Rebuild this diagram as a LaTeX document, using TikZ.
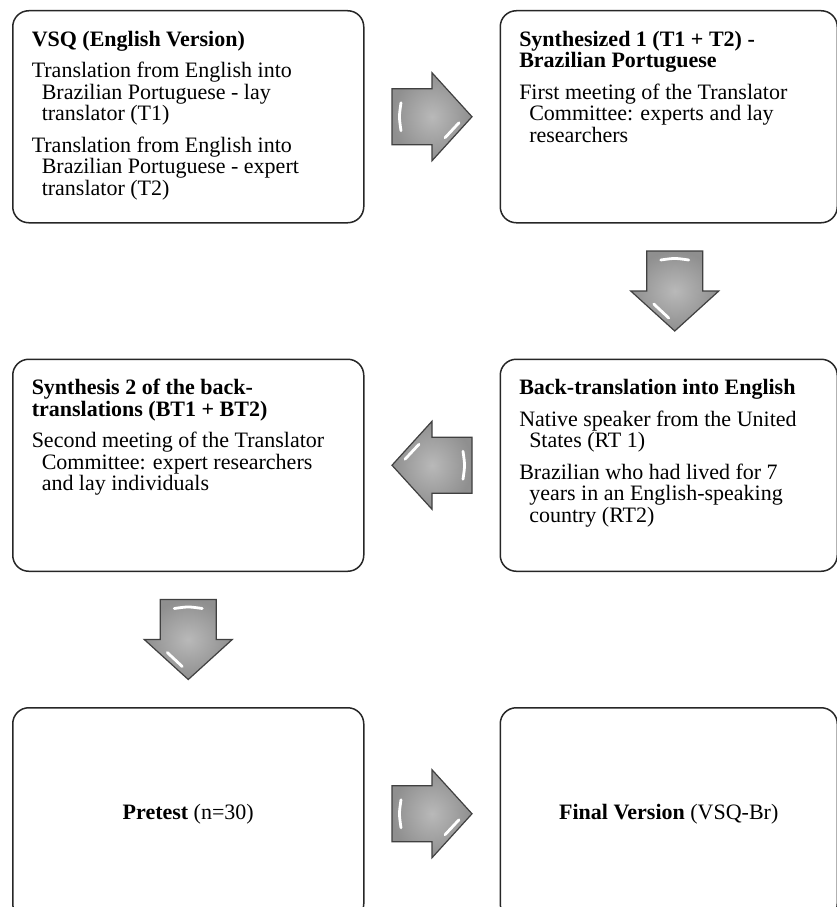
\documentclass[tikz,border=0pt]{standalone}
\usepackage{fontspec}
\setmainfont{Liberation Serif}
\usetikzlibrary{calc,positioning}

\newcommand{\stagetext}[2]{\parbox[t][172pt][t]{#1}{\raggedright\setlength{\parskip}{10pt}#2}}
\newcommand{\substep}[1]{\par\hangindent=10pt\hangafter=1 #1}

\begin{document}
\begin{tikzpicture}[x=1pt,y=-1pt,
                stage/.style={draw=black!85,line width=1.5pt,rounded corners=16pt,
                    inner xsep=19pt,inner ysep=20pt,minimum height=212pt,
                    font=\fontsize{22}{21.5}\selectfont},
                leftstage/.style={stage,minimum width=351pt},
                rightstage/.style={stage,minimum width=337pt},
                arrowbody/.style={draw=black!75,line width=1.2pt,inner color=gray!55,outer color=gray!88},
                glint/.style={white,line width=2.8pt,line cap=round},
                blockarrow/.pic={
                    \draw[arrowbody] (-40,-28) -- (0,-28) -- (0,-44) -- (40,0) -- (0,44) -- (0,28) -- (-40,28) -- cycle;
                    \draw[glint] (-31,-14) .. controls (-33,0) .. (-31,14);
                    \draw[glint] (13,21) -- (27,6);
                }
            ]
                \useasboundingbox (0,0) rectangle (836,907);
                % stages
                \node[leftstage,anchor=north west] (vsq) at (12,10) {\stagetext{313pt}{%
                    \textbf{VSQ (English Version)}
                    \substep{Translation from English into\newline Brazilian Portuguese - lay\newline translator (T1)}
                    \substep{Translation from English into\newline Brazilian Portuguese - expert\newline translator (T2)}}};
                \node[rightstage,right=135pt of vsq] (syn1) {\stagetext{299pt}{%
                    \textbf{Synthesized 1 (T1 + T2) -\newline Brazilian Portuguese}
                    \substep{First meeting of the Translator\newline Committee: experts and lay\newline researchers}}};
                \node[rightstage,below=135pt of syn1] (back) {\stagetext{299pt}{%
                    \textbf{Back-translation into English}
                    \substep{Native speaker from the United\newline States (RT 1)}
                    \substep{Brazilian who had lived for 7\newline years in an English-speaking\newline country (RT2)}}};
                \node[leftstage,below=135pt of vsq] (syn2) {\stagetext{313pt}{%
                    \textbf{Synthesis 2 of the back-\newline translations (BT1 + BT2)}
                    \substep{Second meeting of the Translator\newline Committee: expert researchers\newline and lay individuals}}};
                \node[leftstage,below=135pt of syn2] (pretest) {\textbf{Pretest} (n=30)};
                \node[rightstage,right=135pt of pretest] (final) {\textbf{Final Version} (VSQ-Br)};
                % block arrows
                \pic at ($(vsq.east)!0.5!(syn1.west)$) {blockarrow};
                \pic[rotate=-90] at ($(syn1.south)!0.5!(back.north)+(6,0)$) {blockarrow};
                \pic[rotate=180] at ($(back.west)!0.5!(syn2.east)$) {blockarrow};
                \pic[rotate=-90] at ($(syn2.south)!0.5!(pretest.north)$) {blockarrow};
                \pic at ($(pretest.east)!0.5!(final.west)$) {blockarrow};
            \end{tikzpicture}
\end{document}
